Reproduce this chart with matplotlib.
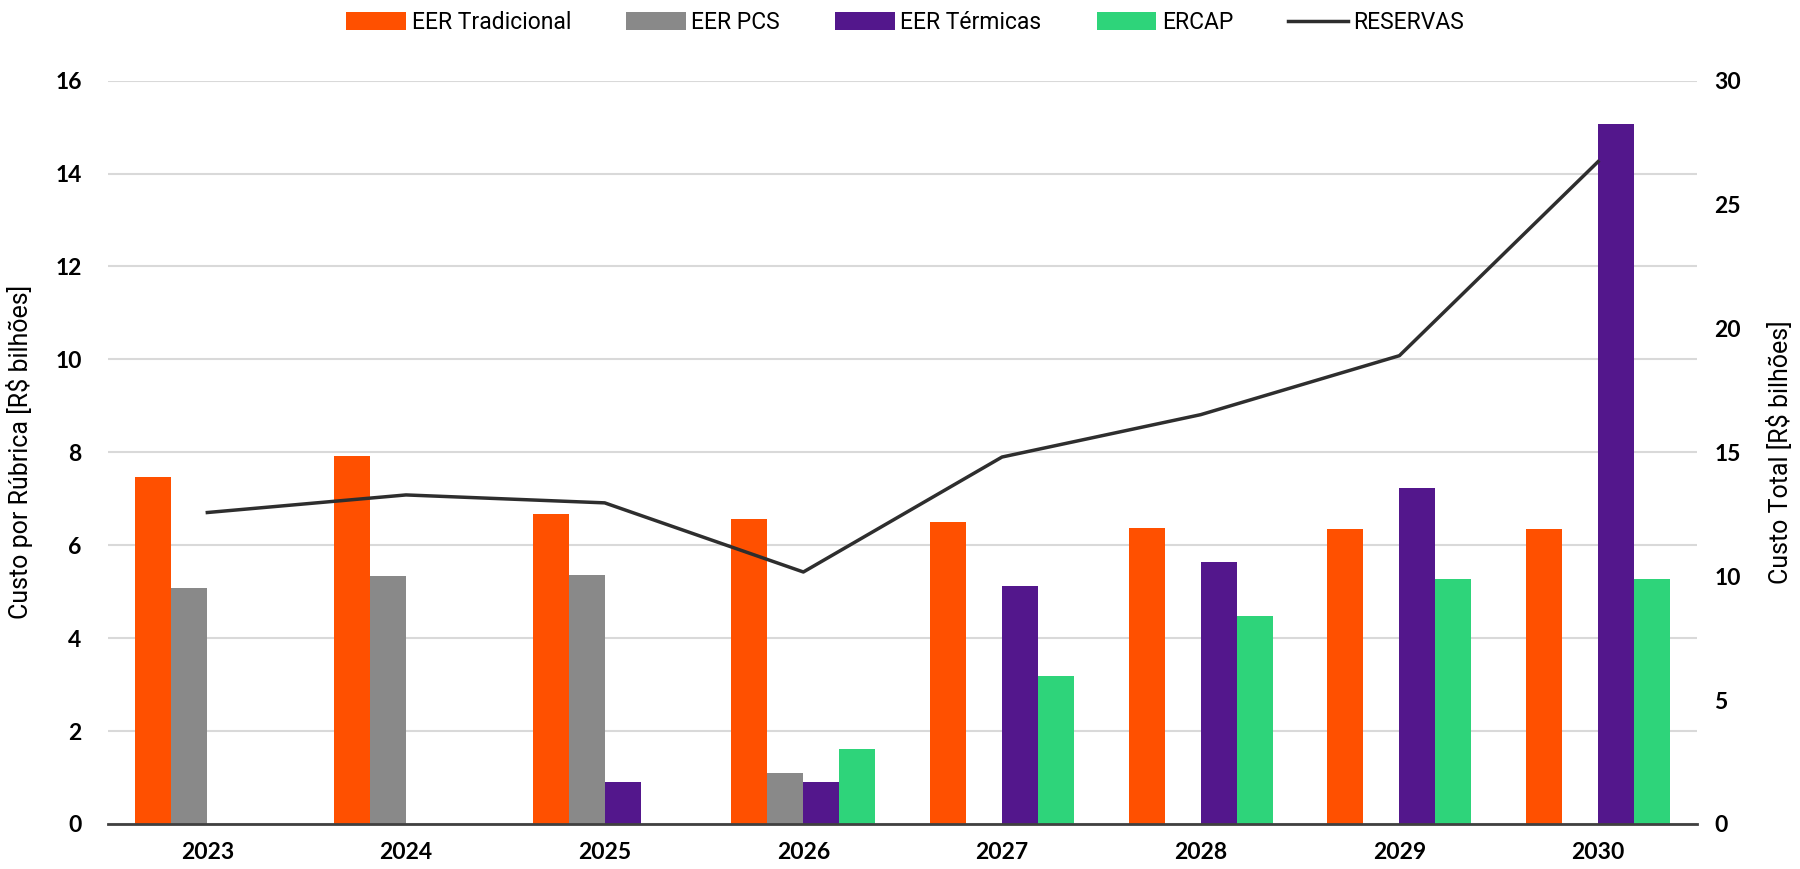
import matplotlib
matplotlib.use('Agg')
import matplotlib.pyplot as plt
import numpy as np
from matplotlib.lines import Line2D
from matplotlib.patches import Patch

# data
anos = ['2023', '2024', '2025', '2026', '2027', '2028', '2029', '2030']
eer_tradicional = [7.46, 7.91, 6.68, 6.57, 6.49, 6.38, 6.35, 6.35]
eer_pcs = [5.08, 5.33, 5.36, 1.09, 0, 0, 0, 0]
eer_termicas = [0, 0, 0.90, 0.90, 5.13, 5.64, 7.23, 15.07]
ercap = [0, 0, 0, 1.61, 3.18, 4.48, 5.27, 5.27]
reservas = [12.57, 13.28, 12.96, 10.17, 14.81, 16.52, 18.90, 26.73]

series_names = ['EER Tradicional', 'EER PCS', 'EER Térmicas', 'ERCAP']
colors = ['#FF5000', '#898989', '#53178C', '#2ED47A']
line_color = '#2E2E2E'

narrow = ['Roboto', 'DejaVu Sans']
tick_font = ['Lato', 'DejaVu Sans']

fig = plt.figure(figsize=(18, 8.69), dpi=100)
ax = fig.add_axes([0.06, 0.0518, 0.883, 0.8554])
ax2 = ax.twinx()

x = np.arange(len(anos))
width = 0.181
all_series = [eer_tradicional, eer_pcs, eer_termicas, ercap]
for i, (vals, c) in enumerate(zip(all_series, colors)):
    ax.bar(x + (i - 1.5) * width, vals, width, color=c, zorder=3)

ax2.plot(x, reservas, color=line_color, linewidth=2.5, zorder=4)

ax.set_xlim(-0.5, 7.5)
ax.set_ylim(0, 16)
ax.set_yticks(range(0, 17, 2))
ax2.set_ylim(0, 30)
ax2.set_yticks(range(0, 31, 5))

ax.set_xticks(x)
ax.set_xticklabels(anos)
ax.grid(axis='y', color='#D9D9D9', linewidth=1.5, zorder=0)
ax.set_axisbelow(True)

for a in (ax, ax2):
    for s in a.spines.values():
        s.set_visible(False)
ax.spines['bottom'].set_visible(True)
ax.spines['bottom'].set_color('#404040')
ax.spines['bottom'].set_linewidth(2)
ax.spines['bottom'].set_zorder(5)

ax.tick_params(axis='y', length=0, pad=19)
ax.tick_params(axis='x', length=0, pad=13)
ax2.tick_params(axis='y', length=0, pad=12)
for lab in ax.get_xticklabels() + ax.get_yticklabels() + ax2.get_yticklabels():
    lab.set_fontfamily(tick_font)
    lab.set_fontweight('bold')
    lab.set_fontsize(16.5)

ax.set_ylabel('Custo por Rúbrica [R$ bilhões]', fontsize=18, family=narrow)
ax.yaxis.set_label_coords(-0.047, 0.5)
ax2.set_ylabel('Custo Total [R$ bilhões]', fontsize=18, family=narrow, rotation=90)
ax2.yaxis.set_label_coords(1.044, 0.5)

handles = [Patch(facecolor=c, label=n) for n, c in zip(series_names, colors)]
handles.append(Line2D([0], [0], color=line_color, linewidth=2.5, label='RESERVAS'))
fig.legend(handles=handles, loc='center', bbox_to_anchor=(0.503, 0.974), ncol=5,
           frameon=False, prop={'family': narrow, 'size': 16.5},
           handlelength=2.6, handleheight=0.8, handletextpad=0.25, columnspacing=2.4)

fig.savefig('out.png', dpi=100)
